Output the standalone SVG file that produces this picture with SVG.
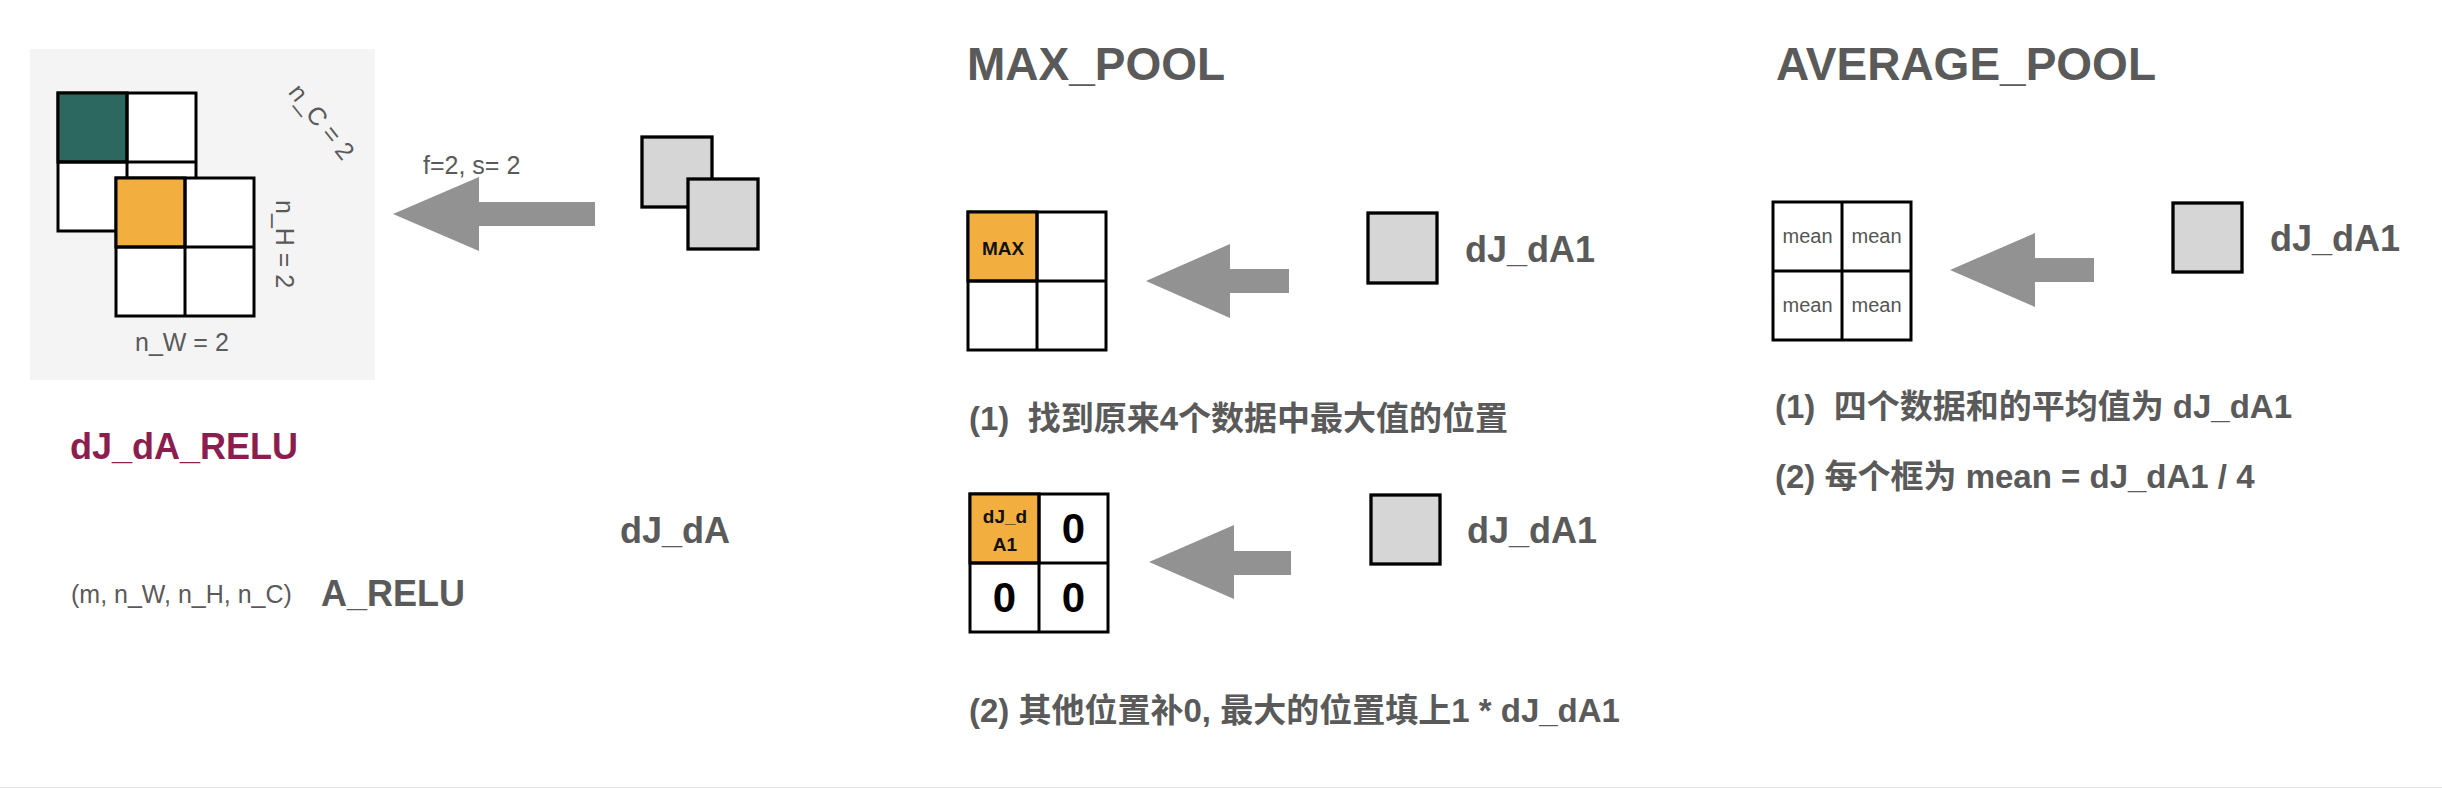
<svg xmlns="http://www.w3.org/2000/svg" width="2442" height="788" viewBox="0 0 2442 788">
<style>
.lbl{font-family:"Liberation Sans","Noto Sans CJK SC",sans-serif;fill:#5a5a5a}
.b{font-weight:bold}
.dim{font-size:25px}
.big{font-size:36px;font-weight:bold}
.title{font-size:46px;font-weight:bold}
.note{font-size:33px;font-weight:bold;white-space:pre}
.cell{fill:#ffffff;stroke:#000;stroke-width:3}
.ln{stroke:#000;stroke-width:3}
.sq{fill:#d6d6d6;stroke:#000;stroke-width:3.3}
.arrow{fill:#929292}
.small{font-size:19px;font-weight:bold;fill:#111;text-anchor:middle}
.zero{font-size:42px;font-weight:bold;fill:#000;text-anchor:middle}
.mean{font-size:20px;fill:#555;text-anchor:middle}
</style>
<rect x="0" y="0" width="2442" height="788" fill="#ffffff"/>
<rect x="0" y="787" width="2442" height="1" fill="#e6e6e6"/>

<g id="relu-volume">
<rect x="30" y="49" width="345" height="331" fill="#f4f4f4"/>
<rect class="cell" x="58" y="93" width="138" height="138"/>
<rect x="58" y="93" width="69" height="69" fill="#2c6860" stroke="#000" stroke-width="3"/>
<line class="ln" x1="127" y1="93" x2="127" y2="231"/>
<line class="ln" x1="58" y1="162" x2="196" y2="162"/>
<rect class="cell" x="116" y="178" width="138" height="138"/>
<rect x="116" y="178" width="69" height="69" fill="#f2af40" stroke="#000" stroke-width="3"/>
<line class="ln" x1="185" y1="178" x2="185" y2="316"/>
<line class="ln" x1="116" y1="247" x2="254" y2="247"/>
<text class="lbl dim" x="315" y="127" text-anchor="middle" transform="rotate(51.5 315 127)">n_C = 2</text>
<text class="lbl dim" x="276" y="200" transform="rotate(90 276 200)">n_H = 2</text>
<text class="lbl dim" x="135" y="351">n_W = 2</text>
</g>

<g id="relu-labels">
<text class="lbl big" x="70" y="459" style="fill:#8b1e4f">dJ_dA_RELU</text>
<text class="lbl dim" x="71" y="603">(m, n_W, n_H, n_C)</text>
<text class="lbl big" x="321" y="606">A_RELU</text>
</g>

<g id="dA-volume">
<rect class="sq" x="642" y="137" width="70" height="70"/>
<rect class="sq" x="688" y="179" width="70" height="70"/>
<text class="lbl big" x="620" y="543">dJ_dA</text>
<text class="lbl dim" x="423" y="174">f=2, s= 2</text>
</g>

<g id="max-pool">
<text class="lbl title" x="967" y="80">MAX_POOL</text>
<rect class="cell" x="968" y="212" width="138" height="138"/>
<rect x="968" y="212" width="69" height="69" fill="#f2af40" stroke="#000" stroke-width="3"/>
<line class="ln" x1="1037" y1="212" x2="1037" y2="350"/>
<line class="ln" x1="968" y1="281" x2="1106" y2="281"/>
<text class="lbl small" x="1003" y="255">MAX</text>
<rect class="sq" x="1368" y="213" width="69" height="70"/>
<text class="lbl big" x="1465" y="262">dJ_dA1</text>
<text class="lbl note" x="969" y="430">(1)  找到原来4个数据中最大值的位置</text>
</g>

<g id="max-pool-back">
<rect class="cell" x="970" y="494" width="138" height="138"/>
<rect x="970" y="494" width="69" height="69" fill="#f2af40" stroke="#000" stroke-width="3"/>
<line class="ln" x1="1039" y1="494" x2="1039" y2="632"/>
<line class="ln" x1="970" y1="563" x2="1108" y2="563"/>
<text class="lbl small" x="1005" y="523">dJ_d</text>
<text class="lbl small" x="1005" y="551">A1</text>
<text class="lbl zero" x="1073.5" y="543">0</text>
<text class="lbl zero" x="1004.5" y="612">0</text>
<text class="lbl zero" x="1073.5" y="612">0</text>
<rect class="sq" x="1371" y="495" width="69" height="69"/>
<text class="lbl big" x="1467" y="543">dJ_dA1</text>
<text class="lbl note" x="969" y="722">(2) 其他位置补0, 最大的位置填上1 * dJ_dA1</text>
</g>

<g id="average-pool">
<text class="lbl title" x="1776" y="80">AVERAGE_POOL</text>
<rect class="cell" x="1773" y="202" width="138" height="138"/>
<line class="ln" x1="1842" y1="202" x2="1842" y2="340"/>
<line class="ln" x1="1773" y1="271" x2="1911" y2="271"/>
<text class="lbl mean" x="1807.5" y="243">mean</text>
<text class="lbl mean" x="1876.5" y="243">mean</text>
<text class="lbl mean" x="1807.5" y="312">mean</text>
<text class="lbl mean" x="1876.5" y="312">mean</text>
<rect class="sq" x="2173" y="203" width="69" height="69"/>
<text class="lbl big" x="2270" y="251">dJ_dA1</text>
<text class="lbl note" x="1775" y="418">(1)  四个数据和的平均值为 dJ_dA1</text>
<text class="lbl note" x="1775" y="488">(2) 每个框为 mean = dJ_dA1 / 4</text>
</g>

<g id="connectors">
<polygon class="arrow" points="393,214 479,177 479,202 595,202 595,226 479,226 479,251"/>
<polygon class="arrow" points="1146,281 1230,244 1230,269 1289,269 1289,293 1230,293 1230,318"/>
<polygon class="arrow" points="1149,562 1234,525 1234,551 1291,551 1291,575 1234,575 1234,599"/>
<polygon class="arrow" points="1950,270 2035,233 2035,258 2094,258 2094,282 2035,282 2035,307"/>
</g>
</svg>
